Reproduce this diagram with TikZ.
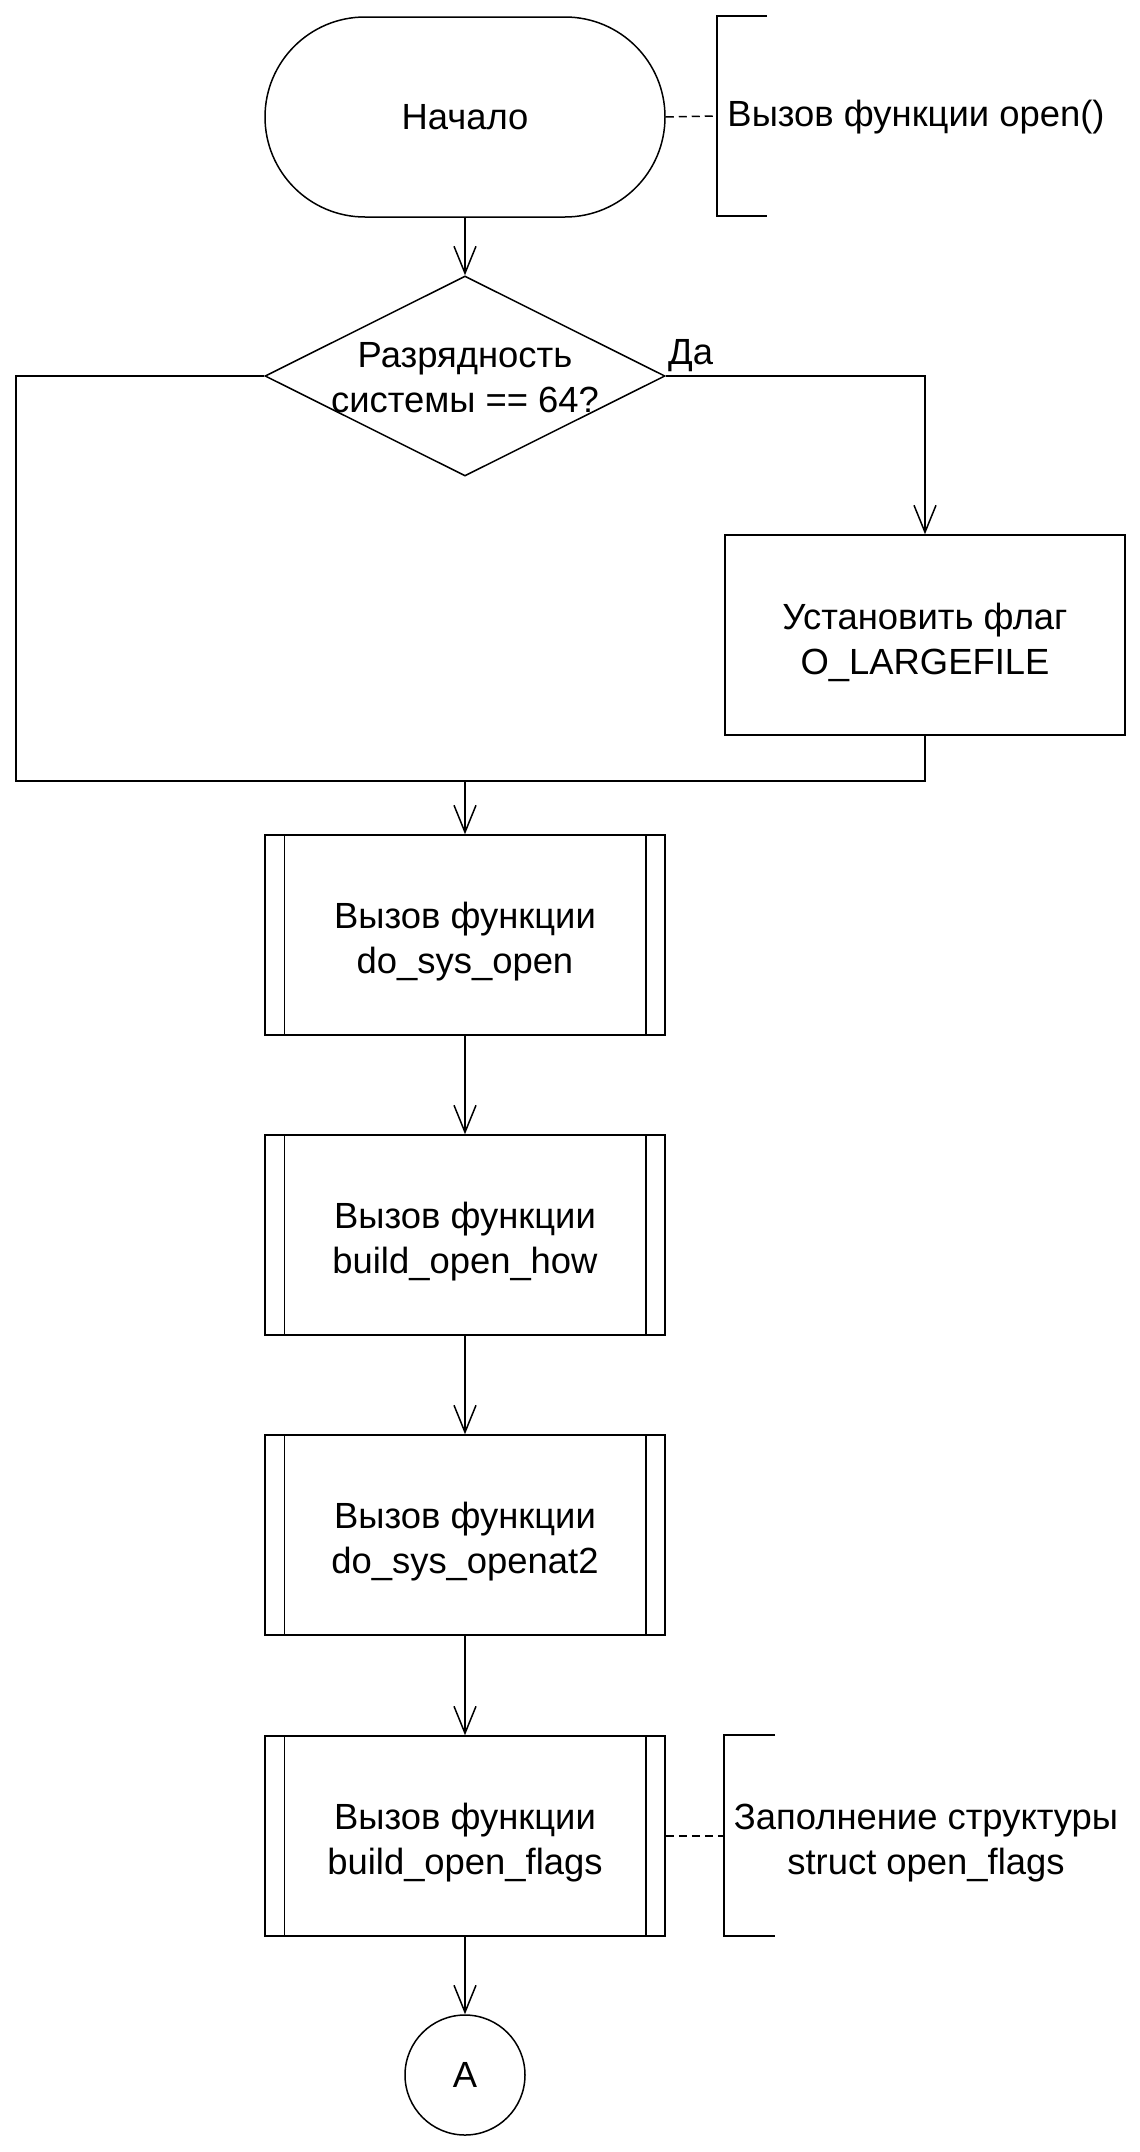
\documentclass[tikz,border=0pt]{standalone}
\usepackage{fontspec}
\setmainfont{Liberation Sans}
\usetikzlibrary{shapes.geometric,arrows.meta}
\begin{document}
\begin{tikzpicture}[x=0.5pt,y=-0.5pt,
  every node/.style={font=\fontsize{18.2pt}{22.5pt}\selectfont, align=center},
  line/.style={line width=0.75pt},
  lbl/.style={align=center,yshift=-3.5pt},
  arr/.style={line width=0.75pt,-{Straight Barb[length=13.5pt,width=11pt,line width=0.75pt]}},
  commentline/.style={line width=0.75pt,dash pattern=on 4pt off 2.5pt},
  termbox/.style={draw,line width=0.75pt,rectangle,rounded corners=50pt,minimum width=200pt,minimum height=100pt,inner sep=0pt},
  procbox/.style={draw,line width=0.75pt,rectangle,minimum width=200pt,minimum height=100pt,inner sep=0pt},
  decbox/.style={draw,line width=0.75pt,diamond,minimum width=200pt,minimum height=100pt,inner sep=0pt},
  conn/.style={draw,line width=0.75pt,circle,minimum size=60pt,inner sep=0pt}]
\useasboundingbox (0,0) rectangle (1140,2152);
\fill[white] (0,0) rectangle (1140,2152);

% start
\node[termbox] (start) at (465,117) {Начало};
\coordinate (b1t) at (767,16);
\coordinate (b1a) at (717,16);
\coordinate (b1b) at (717,216);
\coordinate (b1e) at (767,216);
\coordinate (b1m) at (717,116);
\draw[line] (b1t) -- (b1a) -- (b1b) -- (b1e);
\draw[commentline] (start.east) -- (b1m);
\node (c1) at (916,117) {Вызов функции open()};

% decision
\node[decbox,label={[align=center,yshift=-1pt]center:Разрядность\\системы == 64?}] (dec) at (465,376) {};
\draw[arr] (start.south) -- (dec.north);
\node[anchor=south west,inner sep=1pt] (yes) at ([xshift=0pt,yshift=1pt]dec.east) {Да};

% right box
\node[procbox,label={[lbl]center:Установить флаг\\ O\_LARGEFILE}] (rbox) at (925,635) {};
\draw[arr] (dec.east) -| (rbox.north);

% merge
\coordinate (lt) at (16,376);
\coordinate (lb) at (16,781);
\coordinate (m) at (465,781);
\draw[line] (dec.west) -- (lt) -- (lb) -- (m);
\draw[line] (rbox.south) |- (m);

% process boxes
\node[procbox,label={[lbl]center:Вызов функции\\do\_sys\_open}] (p1) at (465,935) {};
\node[procbox,label={[lbl]center:Вызов функции\\build\_open\_how}] (p2) at (465,1235) {};
\node[procbox,label={[lbl]center:Вызов функции\\do\_sys\_openat2}] (p3) at (465,1535) {};
\node[procbox,label={[lbl]center:Вызов функции\\build\_open\_flags}] (p4) at (465,1836) {};
\foreach \p in {p1,p2,p3,p4}{
  \draw[line] ([xshift=10pt]\p.north west) -- ([xshift=10pt]\p.south west);
  \draw[line] ([xshift=-10pt]\p.north east) -- ([xshift=-10pt]\p.south east);
}
\draw[arr] (m) -- (p1.north);
\draw[arr] (p1.south) -- (p2.north);
\draw[arr] (p2.south) -- (p3.north);
\draw[arr] (p3.south) -- (p4.north);

% comment 2
\coordinate (b2t) at (775,1735);
\coordinate (b2a) at (724,1735);
\coordinate (b2b) at (724,1936);
\coordinate (b2e) at (775,1936);
\coordinate (b2m) at (724,1836);
\draw[line] (b2t) -- (b2a) -- (b2b) -- (b2e);
\draw[commentline] (p4.east) -- (b2m);
\node (c2) at (926,1843) {Заполнение структуры\\struct open\_flags};

% connector
\node[conn] (A) at (465,2075) {A};
\draw[arr] (p4.south) -- (A.north);
\end{tikzpicture}
\end{document}
